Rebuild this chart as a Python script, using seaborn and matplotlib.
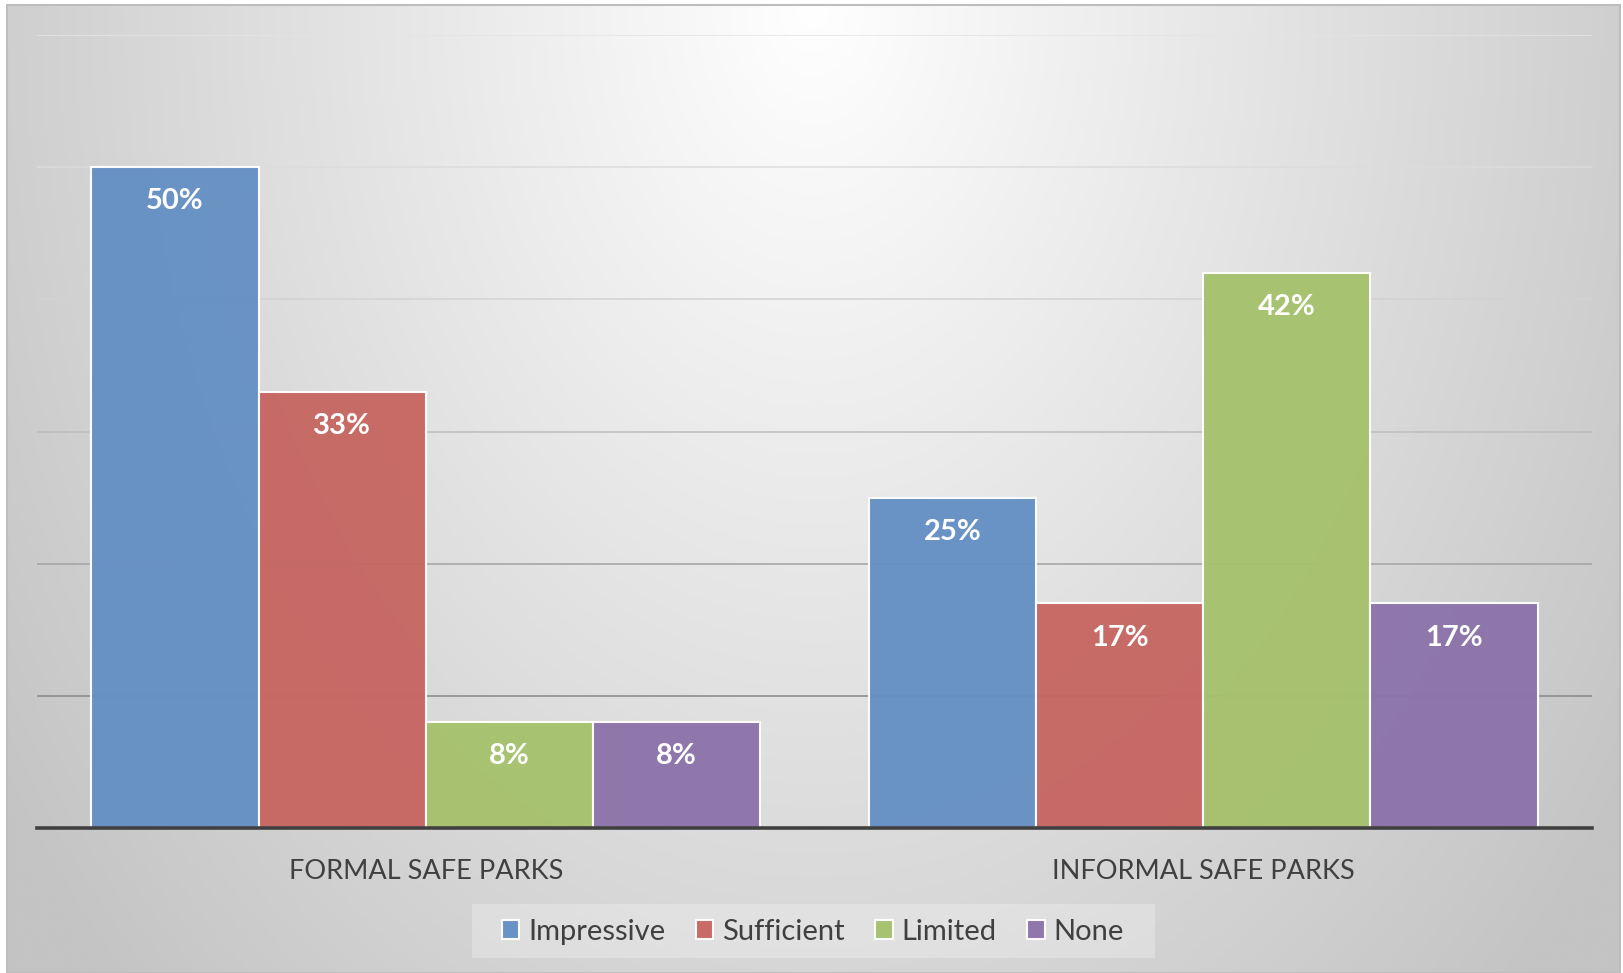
import numpy as np
import pandas as pd
import matplotlib
matplotlib.use("Agg")
import matplotlib.pyplot as plt
from matplotlib.patches import Rectangle
import seaborn as sns

# ---- data -------------------------------------------------------------
parks = ["FORMAL SAFE PARKS", "INFORMAL SAFE PARKS"]
ratings = ["Impressive", "Sufficient", "Limited", "None"]
formal_values = [50, 33, 8, 8]
informal_values = [25, 17, 42, 17]
rating_colors = ["#6590c4", "#c76662", "#a5c16c", "#8c73aa"]

df = pd.DataFrame({
    "park": [parks[0]] * len(ratings) + [parks[1]] * len(ratings),
    "rating": ratings * 2,
    "value": formal_values + informal_values,
})

sns.set_theme(style="white")
plt.rcParams["font.family"] = ["Lato", "DejaVu Sans"]

W, H = 1623, 973
fig = plt.figure(figsize=(W / 100, H / 100), dpi=100)
fig.patch.set_facecolor("white")

# ---- radial grey background of the chart area --------------------------
bg = fig.add_axes([0, 0, 1, 1], zorder=0)
x0, x1, y0, y1 = 7, 1620, 5, 973
gx = np.linspace(-0.5, 0.5, 800)
gy = np.linspace(0.0, 1.0, 500)
U, V = np.meshgrid(gx, gy)
shade = 255 - np.sqrt((96 * U) ** 2 + (41 * V) ** 2)
shade = np.clip(shade, 196, 255) / 255.0
img = np.dstack([shade, shade, shade])
bg.imshow(img, extent=(x0, x1, y1, y0), aspect="auto", interpolation="bilinear")
bg.add_patch(Rectangle((x0, y0), x1 - x0, y1 - y0, fill=False,
                       edgecolor="#bdbdbd", linewidth=1.5))
# light panel behind the legend
bg.add_patch(Rectangle((472, 904), 683, 54, facecolor=(1, 1, 1, 0.25),
                       edgecolor="none"))
bg.set_xlim(0, W)
bg.set_ylim(H, 0)
bg.axis("off")

# ---- bar chart --------------------------------------------------------
ax = fig.add_axes([37 / W, 1 - 828 / H, (1592 - 37) / W, (828 - 35) / H], zorder=1)
ax.patch.set_alpha(0)

sns.barplot(data=df, x="park", y="value", hue="rating", hue_order=ratings,
            palette=rating_colors, width=0.86, saturation=1, ax=ax,
            edgecolor=(1, 1, 1, 0.4), linewidth=1.5, alpha=0.96, errorbar=None)

ax.set_ylim(0, 60)
ax.set_xlim(-0.5, 1.5)
ax.set_yticks(np.arange(10, 61, 10))
ax.set_yticklabels([])
ax.set_axisbelow(True)
ax.yaxis.grid(True, linewidth=1.1)
grid_colors = ["#888888", "#a2a2a2", "#bdbdbd", "#d2d2d2", "#dcdcdc", "#e4e4e4"]
for line, c in zip(ax.get_ygridlines(), grid_colors):
    line.set_color(c)

for side in ["left", "right", "top"]:
    ax.spines[side].set_visible(False)
ax.spines["bottom"].set_color("#404040")
ax.spines["bottom"].set_linewidth(2.6)
ax.tick_params(axis="both", length=0)
ax.tick_params(axis="x", pad=22.5, labelsize=19.5, labelcolor="#404040")
ax.set_xlabel("")
ax.set_ylabel("")

# value labels inside the top of each bar
for container in ax.containers:
    ax.bar_label(container, labels=[f"{v:.0f}%" for v in container.datavalues],
                 padding=-34, color="white", fontsize=21, fontweight="bold")

# ---- legend -----------------------------------------------------------
handles, labels = ax.get_legend_handles_labels()
if ax.legend_:
    ax.legend_.remove()
leg = fig.legend(handles, labels, loc="center", ncol=4,
                 bbox_to_anchor=(813 / W, 1 - 932 / H),
                 fontsize=21, frameon=False,
                 handlelength=0.6, handleheight=0.6, handletextpad=0.3,
                 columnspacing=1.05, borderpad=0.5, labelcolor="#404040")

fig.savefig("out.png", dpi=100)
